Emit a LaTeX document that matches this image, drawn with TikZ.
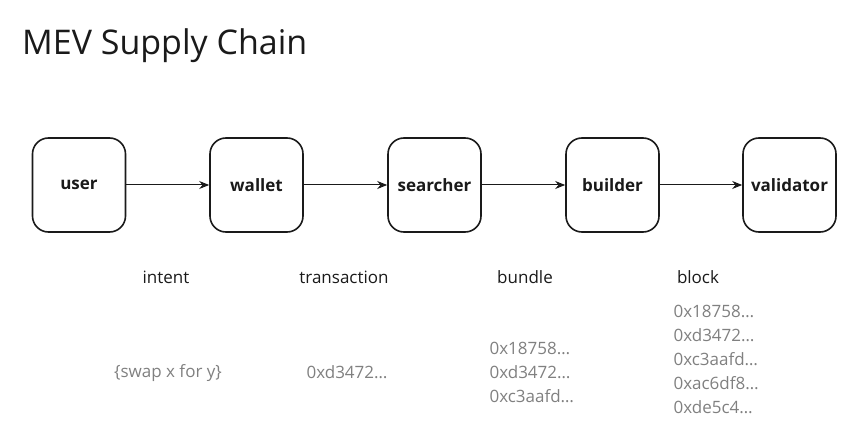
\documentclass[tikz,border=0pt]{standalone}
\usepackage{fontspec}
\setmainfont{Open Sans}
\usetikzlibrary{arrows.meta}
\definecolor{ink}{HTML}{1A1A1A}
\definecolor{hexgray}{HTML}{808080}
\tikzset{
  stage/.style={draw=ink, line width=1.6pt, rounded corners=16pt, minimum width=93pt, minimum height=94pt, font=\fontsize{17}{20}\selectfont\bfseries, text=ink},
  flow/.style={draw=ink, line width=1pt, -{Stealth[length=10pt,width=8pt]}},
  caption/.style={font=\fontsize{17}{20}\selectfont, text=ink},
  hexlist/.style={font=\fontsize{17}{24}\selectfont, text=hexgray, align=left, anchor=west},
  hexone/.style={font=\fontsize{17}{24}\selectfont, text=hexgray}
}
\begin{document}
\begin{tikzpicture}[x=1pt,y=-1pt]
\useasboundingbox (0,0) rectangle (864,422);
\node[anchor=base west, font=\fontsize{34}{40}\selectfont, text=ink, inner sep=0pt] (title) at (22,55) {MEV Supply Chain};
\node[stage] (user) at (79,185) {user};
\node[stage] (wallet) at (256.5,185) {wallet};
\node[stage] (searcher) at (434.5,185) {searcher};
\node[stage] (builder) at (612.5,185) {builder};
\node[stage] (validator) at (789.5,185) {validator};
\draw[flow] (user) -- (wallet);
\draw[flow] (wallet) -- (searcher);
\draw[flow] (searcher) -- (builder);
\draw[flow] (builder) -- (validator);
\node[caption] (intent) at (166,277) {intent};
\node[caption] (transaction) at (344,277) {transaction};
\node[caption] (bundle) at (525,277) {bundle};
\node[caption] (block) at (698,277) {block};
\node[hexone] (swap) at (168,373) {\{swap x for y\}};
\node[hexone] (tx) at (347,372) {0xd3472…};
\node[hexlist] (bundlelist) at (486,372) {0x18758…\\0xd3472…\\0xc3aafd…};
\node[hexlist] (blocklist) at (670,359) {0x18758…\\0xd3472…\\0xc3aafd…\\0xac6df8…\\0xde5c4…};
\end{tikzpicture}
\end{document}
